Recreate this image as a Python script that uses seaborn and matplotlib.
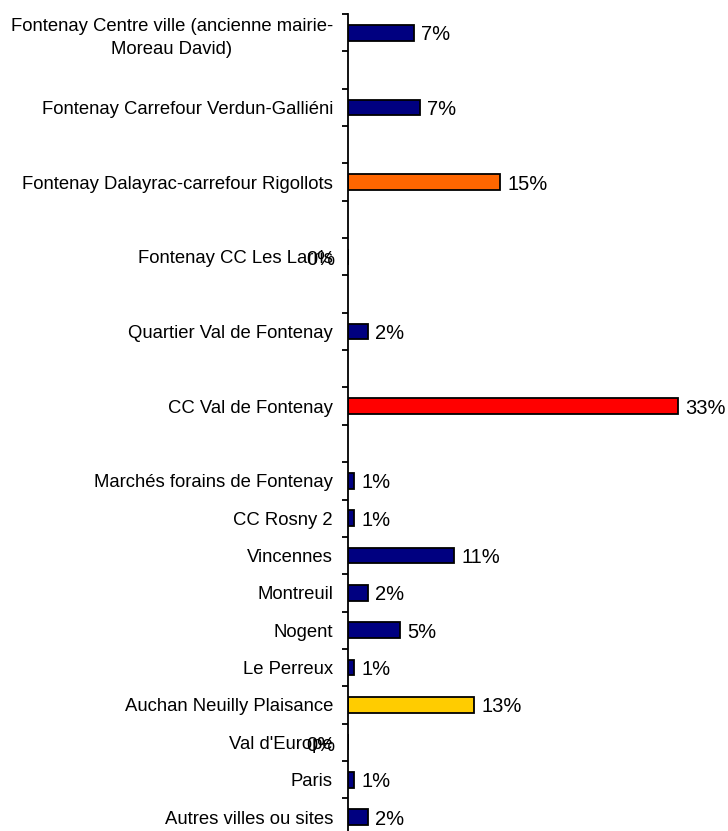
import matplotlib
matplotlib.use("Agg")
import matplotlib.pyplot as plt
import seaborn as sns
import pandas as pd
import numpy as np
from matplotlib.ticker import FixedLocator

# ---- data ----
slots = [
    "Fontenay Centre ville (ancienne mairie-\nMoreau David)", " ",
    "Fontenay Carrefour Verdun-Galliéni", "  ",
    "Fontenay Dalayrac-carrefour Rigollots", "   ",
    "Fontenay CC Les Larris", "    ",
    "Quartier Val de Fontenay", "     ",
    "CC Val de Fontenay", "      ",
    "Marchés forains de Fontenay",
    "CC Rosny 2",
    "Vincennes",
    "Montreuil",
    "Nogent",
    "Le Perreux",
    "Auchan Neuilly Plaisance",
    "Val d'Europe",
    "Paris",
    "Autres villes ou sites",
]
categories = [
    "Fontenay Centre ville (ancienne mairie-\nMoreau David)",
    "Fontenay Carrefour Verdun-Galliéni",
    "Fontenay Dalayrac-carrefour Rigollots",
    "Fontenay CC Les Larris",
    "Quartier Val de Fontenay",
    "CC Val de Fontenay",
    "Marchés forains de Fontenay",
    "CC Rosny 2",
    "Vincennes",
    "Montreuil",
    "Nogent",
    "Le Perreux",
    "Auchan Neuilly Plaisance",
    "Val d'Europe",
    "Paris",
    "Autres villes ou sites",
]
values = [6.6, 7.2, 15.2, 0.0, 2.0, 33.0, 0.6, 0.6, 10.6, 2.0, 5.2, 0.6, 12.6, 0.0, 0.6, 2.0]
colors = ["#000080", "#000080", "#FF6600", "#000080", "#000080", "#FF0000",
          "#000080", "#000080", "#000080", "#000080", "#000080", "#000080",
          "#FFCC00", "#000080", "#000080", "#000080"]

df = pd.DataFrame({"cat": categories, "val": values})

sns.set_theme(style="white")
plt.rcParams["font.family"] = ["Liberation Sans", "DejaVu Sans"]

W, H = 728, 831
fig = plt.figure(figsize=(W / 100, H / 100), dpi=100)
ax_left = 347.5
top = 14
slot_h = 37.35
n = len(slots)
bottom = top + n * slot_h
ax = fig.add_axes([ax_left / W, (H - bottom) / H, 380 / W, (bottom - top) / H])

sns.barplot(data=df, y="cat", x="val", hue="cat", order=slots,
            palette=dict(zip(categories, colors)), legend=False,
            width=0.42, edgecolor="black", linewidth=1.3, orient="h",
            saturation=1, ax=ax)

ax.set_xlim(0, 38)
ax.set_ylim(n - 0.5, -0.5)
ax.set_xlabel("")
ax.set_ylabel("")
ax.set_xticks([])
for s in ["top", "right", "bottom"]:
    ax.spines[s].set_visible(False)
ax.spines["left"].set_color("black")
ax.spines["left"].set_linewidth(1.3)

ax.yaxis.set_minor_locator(FixedLocator(np.arange(-0.5, n + 0.5, 1.0)))
ax.tick_params(axis="y", which="major", length=0, pad=10.5, labelsize=13.3, labelcolor="black")
ax.tick_params(axis="y", which="minor", length=4, width=1.3, color="black", direction="out", left=True)

for t in ax.get_yticklabels():
    t.set_multialignment("center")
    t.set_linespacing(1.45)

# value labels
for cat, v in zip(categories, values):
    y = slots.index(cat)
    txt = f"{v:.0f}%"
    if v == 0:
        ax.annotate(txt, (0, y), xytext=(-12, -3), textcoords="offset pixels",
                    ha="right", va="center", fontsize=14.5, color="black")
    else:
        ax.annotate(txt, (v, y), xytext=(8, -2), textcoords="offset pixels",
                    ha="left", va="center", fontsize=14.5, color="black")

fig.savefig("out.png", dpi=100)
